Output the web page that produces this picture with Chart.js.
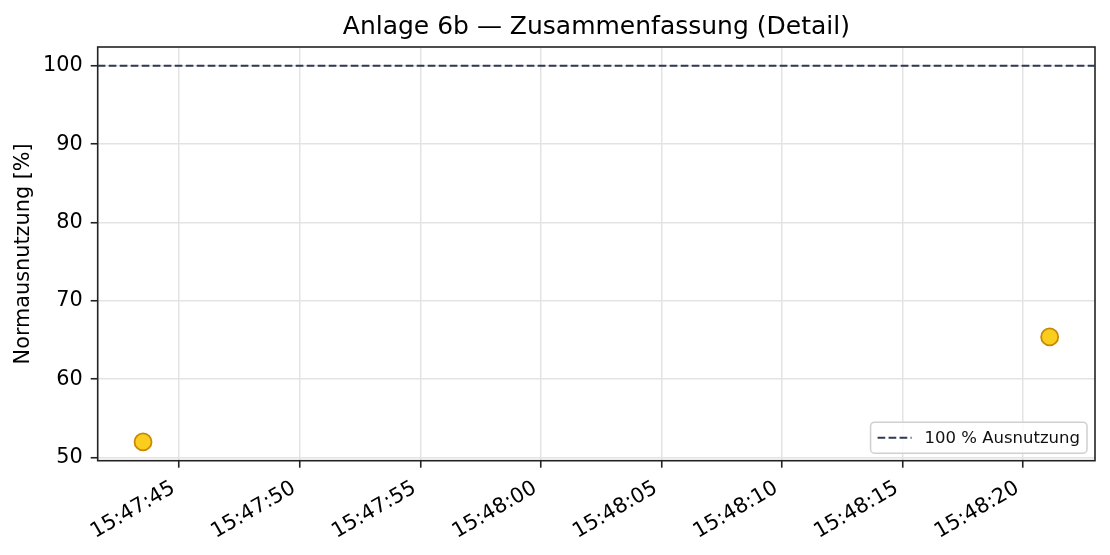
<!DOCTYPE html>
<html>
<head>
<meta charset="utf-8">
<script src="https://cdn.jsdelivr.net/npm/chart.js@4.4.1/dist/chart.umd.min.js"></script>
<style>
  html, body { margin: 0; padding: 0; background: #fff; }
  #wrap { width: 1110px; height: 555px; }
</style>
</head>
<body>
<div id="wrap"><canvas id="chart" width="1110" height="555"></canvas></div>
<script>
// Data
const times = ["15:47:43.5", "15:48:21.1"];
const usage = [52.0, 65.4];
const refLevel = 100;
const refLabel = "100 % Ausnutzung";
const titleText = "Anlage 6b \u2014 Zusammenfassung (Detail)";
const yTitle = "Normausnutzung [%]";

const FONT = "'DejaVu Sans', Verdana, sans-serif";

function toSeconds(t) {
  const [h, m, s] = t.split(":").map(Number);
  return h * 3600 + m * 60 + s;
}

function formatTime(sec) {
  const v = Math.round(sec);
  const h = Math.floor(v / 3600);
  const m = Math.floor((v % 3600) / 60);
  const s = v % 60;
  const pad = (n) => String(n).padStart(2, "0");
  return pad(h) + ":" + pad(m) + ":" + pad(s);
}

const xs = times.map(toSeconds);
const points = xs.map((x, i) => ({ x: x, y: usage[i] }));

// matplotlib-like 5% margins
const xMinData = Math.min(...xs), xMaxData = Math.max(...xs);
const xPad = (xMaxData - xMinData) * 0.05;
const xMin = xMinData - xPad, xMax = xMaxData + xPad;
const yMinData = Math.min(...usage), yMaxData = Math.max(refLevel, ...usage);
const yPad = (yMaxData - yMinData) * 0.05;
const yMin = yMinData - yPad, yMax = yMaxData + yPad;

// Title centred over the plot area, plus frame around it
const framePlugin = {
  id: "frame",
  beforeDatasetsDraw(chart) {
    const { ctx, chartArea: a } = chart;
    ctx.save();
    ctx.strokeStyle = "#222";
    ctx.lineWidth = 1.6;
    ctx.strokeRect(a.left, a.top, a.right - a.left, a.bottom - a.top);
    ctx.fillStyle = "#000";
    ctx.font = "25px " + FONT;
    ctx.textAlign = "center";
    ctx.textBaseline = "alphabetic";
    ctx.fillText(titleText, (a.left + a.right) / 2, a.top - 13);
    ctx.restore();
  },
};

// Legend inside the plot, lower right
const innerLegend = {
  id: "innerLegend",
  afterDatasetsDraw(chart) {
    const { ctx, chartArea: a } = chart;
    const ds = chart.data.datasets[0];
    ctx.save();
    ctx.font = "16.5px " + FONT;
    const tw = ctx.measureText(ds.label).width;
    const pad = 7, handle = 34, gap = 13, h = 31;
    const w = pad + handle + gap + tw + pad;
    const x = a.right - 8 - w;
    const y = a.bottom - 7.5 - h;
    ctx.fillStyle = "rgba(255,255,255,0.8)";
    ctx.strokeStyle = "#d0d0d0";
    ctx.lineWidth = 1.5;
    ctx.beginPath();
    ctx.roundRect(x, y, w, h, 4);
    ctx.fill();
    ctx.stroke();
    const cy = y + h / 2;
    ctx.strokeStyle = ds.borderColor;
    ctx.lineWidth = ds.borderWidth;
    ctx.setLineDash(ds.borderDash);
    ctx.beginPath();
    ctx.moveTo(x + pad, cy);
    ctx.lineTo(x + pad + handle, cy);
    ctx.stroke();
    ctx.setLineDash([]);
    ctx.fillStyle = "#111";
    ctx.textBaseline = "middle";
    ctx.fillText(ds.label, x + pad + handle + gap, cy + 1);
    ctx.restore();
  },
};

const ctx = document.getElementById("chart").getContext("2d");
new Chart(ctx, {
  type: "scatter",
  data: {
    datasets: [
      {
        type: "line",
        label: refLabel,
        data: [
          { x: xMin, y: refLevel },
          { x: xMax, y: refLevel },
        ],
        borderColor: "#2f3a4f",
        borderWidth: 2,
        borderDash: [7.7, 3.3],
        pointRadius: 0,
        fill: false,
      },
      {
        label: "Normausnutzung",
        data: points,
        backgroundColor: "#fbcd1e",
        borderColor: "#c88a05",
        borderWidth: 1.8,
        pointRadius: 8.5,
        pointHoverRadius: 8.5,
      },
    ],
  },
  options: {
    responsive: false,
    animation: false,
    events: [],
    layout: { padding: { left: 0, right: 15, top: 47, bottom: 0 } },
    scales: {
      x: {
        type: "linear",
        min: xMin,
        max: xMax,
        afterFit(scale) {
          scale.height = 94.3;
        },
        ticks: {
          stepSize: 5,
          includeBounds: false,
          autoSkip: false,
          maxRotation: 30,
          minRotation: 30,
          padding: 5,
          color: "#000",
          font: { family: FONT, size: 20.8 },
          // trailing space keeps the rotated text's corner at the tick, as in the original
          callback: (v) => formatTime(v) + " ",
        },
        grid: {
          color: "#e3e3e3",
          lineWidth: 1.5,
          tickColor: "#222",
          tickWidth: 1.6,
          tickLength: 7,
        },
        border: { display: false },
      },
      y: {
        min: yMin,
        max: yMax,
        afterFit(scale) {
          scale.width = 97.7;
        },
        ticks: {
          stepSize: 10,
          includeBounds: false,
          padding: 8,
          color: "#000",
          font: { family: FONT, size: 20.8 },
        },
        grid: {
          color: "#e3e3e3",
          lineWidth: 1.5,
          tickColor: "#222",
          tickWidth: 1.6,
          tickLength: 7,
        },
        border: { display: false },
        title: {
          display: true,
          text: yTitle,
          color: "#000",
          padding: { top: 11, bottom: 0 },
          font: { family: FONT, size: 20.8 },
        },
      },
    },
    plugins: {
      legend: { display: false },
      tooltip: { enabled: false },
      title: { display: false },
    },
  },
  plugins: [framePlugin, innerLegend],
});
</script>
</body>
</html>
